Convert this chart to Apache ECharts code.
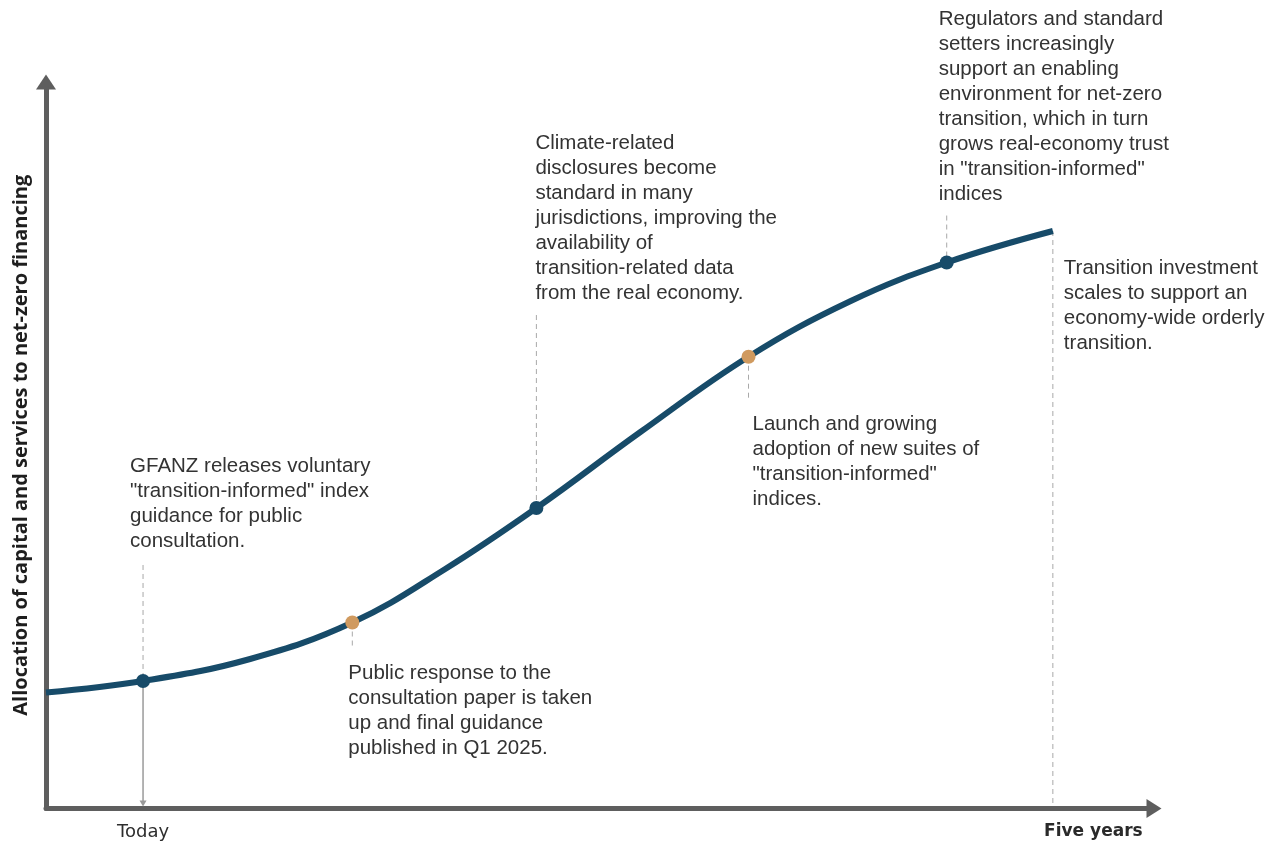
<!DOCTYPE html>
<html>
<head>
<meta charset="utf-8">
<script src="https://cdn.jsdelivr.net/npm/echarts@6/dist/echarts.min.js"></script>
<style>
  html, body { margin: 0; padding: 0; background: #ffffff; }
  #chart { width: 1282px; height: 848px; }
</style>
</head>
<body>
<div id="chart"></div>
<script>
// ---- data ----
const months = [-6.4, 0, 7.06, 13.8, 19.93, 25.94, 32.8, 39.93, 46.67, 53, 60];
const allocation = [15.97, 17.55, 20.58, 25.6, 32.97, 41.36, 51.82, 62.19, 69.86, 75.15, 79.49];

const milestoneMonths = [0, 13.8, 25.94, 39.93, 53, 60];
const milestoneValues = [17.55, 25.6, 41.36, 62.19, 75.15, 79.49];
const milestoneKinds = ['navy', 'orange', 'navy', 'orange', 'navy', 'none'];
const milestoneTexts = [
  'GFANZ releases voluntary\n"transition-informed" index\nguidance for public\nconsultation.',
  'Public response to the\nconsultation paper is taken\nup and final guidance\npublished in Q1 2025.',
  'Climate-related\ndisclosures become\nstandard in many\njurisdictions, improving the\navailability of\ntransition-related data\nfrom the real economy.',
  'Launch and growing\nadoption of new suites of\n"transition-informed"\nindices.',
  'Regulators and standard\nsetters increasingly\nsupport an enabling\nenvironment for net-zero\ntransition, which in turn\ngrows real-economy trust\nin "transition-informed"\nindices',
  'Transition investment\nscales to support an\neconomy-wide orderly\ntransition.'
];

const xTickValues = [0, 60];
const xTickLabels = ['Today', 'Five years'];
const yAxisTitle = 'Allocation of capital and services to net-zero financing';

// ---- styles ----
const NAVY = '#174b69';
const ORANGE = '#d09a5f';
const AXIS = '#5e5e5e';
const TEXT = '#333333';
const kindColor = { navy: NAVY, orange: ORANGE, none: 'transparent' };
// label offsets (px, relative to milestone point) and connector styles
const labelOffsets = [[-13, -227], [-4, 38], [-1, -377], [4, 55], [-8, -256], [11, 25]];
const connectorStyles = [
  { dashUp: 116, solidToAxis: true },
  { dashDown: 26 },
  { dashUp: 193 },
  { dashDown: 45 },
  { dashUp: 47 },
  { dashToAxis: true }
];

const curveData = months.map((m, i) => [m, allocation[i]]);
const milestoneData = milestoneMonths.map((m, i) => [m, milestoneValues[i], i]);

const chart = echarts.init(document.getElementById('chart'), null, { renderer: 'canvas' });

const dashStyle = { stroke: '#a8a8a8', lineWidth: 1, lineDash: [5, 4] };

chart.setOption({
  backgroundColor: '#ffffff',
  animation: false,
  grid: { left: 46, right: 128, top: 82, bottom: 39.5, containLabel: false, outerBoundsMode: 'none' },
  xAxis: {
    type: 'value',
    min: -6.4,
    max: 66.67,
    axisLine: {
      show: true,
      onZero: false,
      lineStyle: { color: AXIS, width: 5 },
      symbol: ['none', 'triangle'],
      symbolSize: [19, 15]
    },
    axisTick: { show: false },
    splitLine: { show: false },
    axisLabel: {
      customValues: xTickValues,
      margin: 15,
      formatter: function (v) {
        const i = xTickValues.indexOf(v);
        if (i < 0) return '';
        return i === 0 ? '{a|' + xTickLabels[i] + '}' : '{b|' + xTickLabels[i] + '}';
      },
      rich: {
        a: { fontFamily: 'DejaVu Sans', fontSize: 18, color: '#2e2e2e' },
        b: { fontFamily: 'DejaVu Sans', fontSize: 17, fontWeight: 'bold', color: '#2a2a2a', padding: [0, 0, 0, 81] }
      }
    }
  },
  yAxis: {
    type: 'value',
    min: 0,
    max: 100,
    name: yAxisTitle,
    nameLocation: 'middle',
    nameGap: 15,
    nameTextStyle: { fontFamily: 'Open Sans', fontWeight: 'bold', fontSize: 20, color: '#1e1e1e' },
    axisLine: {
      show: true,
      onZero: false,
      lineStyle: { color: AXIS, width: 5 },
      symbol: ['none', 'triangle'],
      symbolSize: [20, 15]
    },
    axisTick: { show: false },
    axisLabel: { show: false },
    splitLine: { show: false }
  },
  series: [
    {
      type: 'custom',
      name: 'connectors',
      z: 1,
      silent: true,
      data: milestoneData,
      renderItem: function (params, api) {
        const idx = api.value(2);
        const p = api.coord([api.value(0), api.value(1)]);
        const base = api.coord([api.value(0), 0]);
        const st = connectorStyles[idx];
        const children = [];
        if (st.dashUp) {
          children.push({ type: 'line', shape: { x1: p[0], y1: p[1] - st.dashUp, x2: p[0], y2: p[1] }, style: dashStyle });
        }
        if (st.dashDown) {
          children.push({ type: 'line', shape: { x1: p[0], y1: p[1], x2: p[0], y2: p[1] + st.dashDown }, style: dashStyle });
        }
        if (st.dashToAxis) {
          children.push({ type: 'line', shape: { x1: p[0], y1: p[1], x2: p[0], y2: base[1] - 2 }, style: dashStyle });
        }
        if (st.solidToAxis) {
          children.push({ type: 'line', shape: { x1: p[0], y1: p[1], x2: p[0], y2: base[1] - 4 }, style: { stroke: '#9a9a9a', lineWidth: 1.5 } });
          children.push({ type: 'polygon', shape: { points: [[p[0] - 3.5, base[1] - 8], [p[0] + 3.5, base[1] - 8], [p[0], base[1] - 2]] }, style: { fill: '#9a9a9a' } });
        }
        return { type: 'group', children: children };
      }
    },
    {
      type: 'line',
      name: 'curve',
      z: 2,
      data: curveData,
      smooth: 0.4,
      showSymbol: false,
      lineStyle: { color: NAVY, width: 6, cap: 'butt' },
      silent: true
    },
    {
      type: 'scatter',
      name: 'milestones',
      z: 3,
      symbolSize: 14,
      silent: true,
      data: milestoneData.map((d, i) => ({
        value: d,
        itemStyle: { color: kindColor[milestoneKinds[i]], opacity: 1 }
      }))
    },
    {
      type: 'scatter',
      name: 'annotations',
      z: 4,
      symbolSize: 0,
      silent: true,
      data: milestoneData.map((d, i) => ({
        value: d,
        itemStyle: { opacity: 0 },
        label: {
          show: true,
          position: labelOffsets[i],
          align: 'left',
          verticalAlign: 'top',
          formatter: milestoneTexts[i],
          fontFamily: 'Liberation Sans',
          fontSize: 20.5,
          lineHeight: 25,
          color: TEXT,
          opacity: 1
        }
      }))
    }
  ]
});
</script>
</body>
</html>
